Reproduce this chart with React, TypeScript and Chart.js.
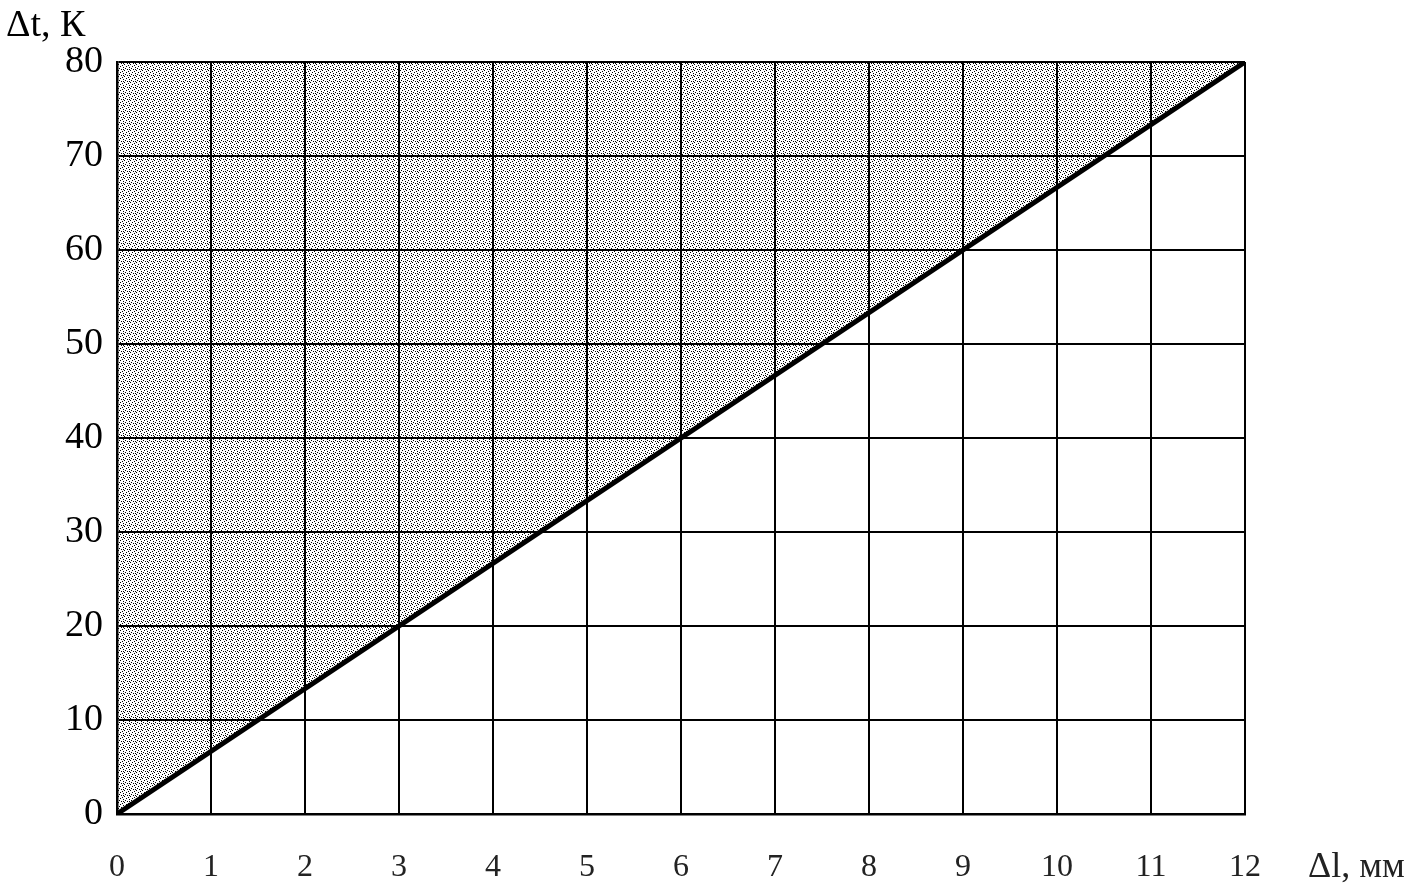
import React, { useEffect, useRef } from "react";
import { Chart, registerables } from "chart.js";

Chart.register(...registerables);

const lengthMm = [0, 12];
const tempDelta = [0, 80];
const xTicks = [0, 1, 2, 3, 4, 5, 6, 7, 8, 9, 10, 11, 12];
const yTicks = [0, 10, 20, 30, 40, 50, 60, 70, 80];
const yTitle = "Δt, К";
const xTitle = "Δl, мм";

function makePattern(): CanvasPattern | string {
  const c = document.createElement("canvas");
  c.width = 6;
  c.height = 6;
  const g = c.getContext("2d");
  if (!g) return "rgba(0,0,0,0.3)";
  g.fillStyle = "#000";
  const dots = [
    [0, 0], [3, 1], [1, 3], [4, 4], [2, 5], [5, 2], [3, 3],
  ];
  dots.forEach(([x, y]) => g.fillRect(x, y, 1, 1));
  const p = g.createPattern(c, "repeat");
  return p || "rgba(0,0,0,0.3)";
}

const titlesPlugin = {
  id: "titles",
  afterDraw(chart: any) {
    const ctx = chart.ctx;
    ctx.save();
    ctx.fillStyle = "#000";
    ctx.font = "38px 'Liberation Serif'";
    ctx.textBaseline = "alphabetic";
    ctx.textAlign = "left";
    ctx.fillText(yTitle, 6, 36);
    ctx.font = "36px 'Liberation Serif'";
    ctx.textBaseline = "middle";
    ctx.fillStyle = "#222";
    ctx.fillText(xTitle, 1308, 868);
    ctx.restore();
  },
};

export default function App() {
  const ref = useRef<HTMLCanvasElement>(null);
  useEffect(() => {
    if (!ref.current) return;
    const chart = new Chart(ref.current, {
      type: "line",
      data: {
        datasets: [
          {
            data: lengthMm.map((x, i) => ({ x, y: tempDelta[i] })),
            borderColor: "#000",
            borderWidth: 5,
            pointRadius: 0,
            fill: "end",
            backgroundColor: makePattern() as any,
          },
        ],
      },
      options: {
        animation: false,
        responsive: false,
        maintainAspectRatio: false,
        layout: { padding: { left: 0, right: 179, top: 62, bottom: 0 } },
        plugins: { legend: { display: false }, tooltip: { enabled: false } },
        scales: {
          x: {
            type: "linear",
            min: 0,
            max: 12,
            afterBuildTicks: (s: any) => {
              s.ticks = xTicks.map((v) => ({ value: v }));
            },
            afterFit: (s: any) => {
              s.height = 76;
            },
            grid: { color: "#000", lineWidth: 2, drawTicks: false },
            border: { color: "#000", width: 2.5 },
            ticks: {
              padding: 34,
              color: "#222",
              font: { family: "'Liberation Serif'", size: 32 },
              maxRotation: 0,
              autoSkip: false,
            },
          },
          y: {
            type: "linear",
            min: 0,
            max: 80,
            afterBuildTicks: (s: any) => {
              s.ticks = yTicks.map((v) => ({ value: v }));
            },
            afterFit: (s: any) => {
              s.width = 117;
            },
            grid: { color: "#000", lineWidth: 2, drawTicks: false },
            border: { color: "#000", width: 2.5 },
            ticks: {
              padding: 14,
              color: "#000",
              font: { family: "'Liberation Serif'", size: 38 },
              autoSkip: false,
            },
          },
        },
      },
      plugins: [titlesPlugin],
    });
    return () => chart.destroy();
  }, []);
  return (
    <div style={{ position: "fixed", left: 0, top: 0, width: 1424, height: 890, background: "#fff" }}>
      <canvas ref={ref} width={1424} height={890} style={{ width: 1424, height: 890 }} />
    </div>
  );
}
